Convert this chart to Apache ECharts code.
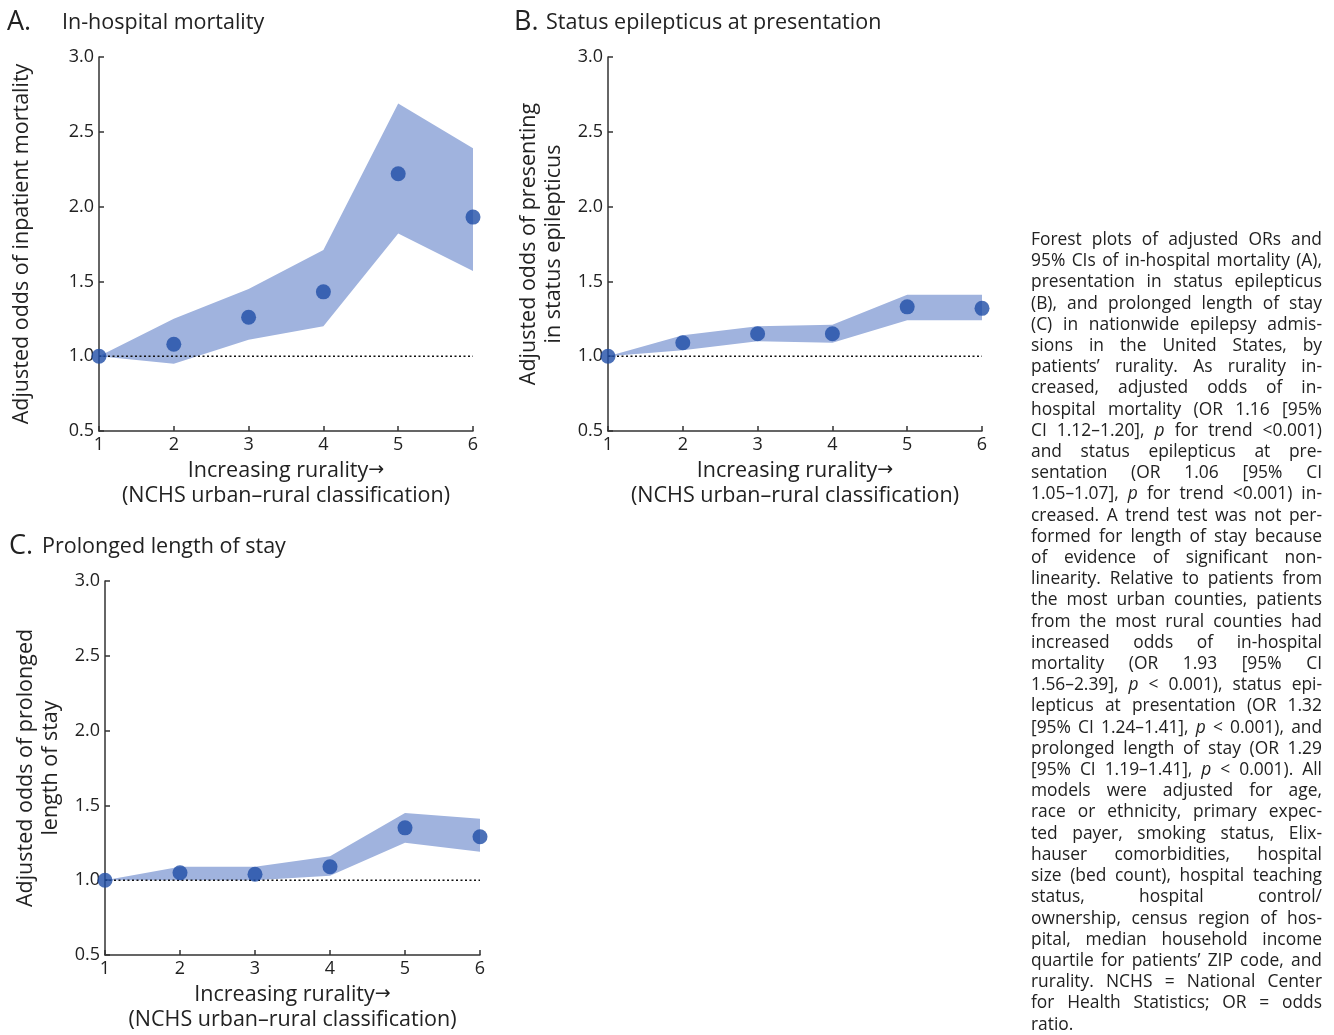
<!DOCTYPE html>
<html>
<head>
<meta charset="utf-8">
<script src="https://cdn.jsdelivr.net/npm/echarts@6/dist/echarts.min.js"></script>
<style>
  html, body { margin: 0; padding: 0; background: #fff; }
  #chart { position: absolute; left: 0; top: 0; width: 1334px; height: 1035px; }
  #caption {
    position: absolute; left: 1031px; top: 228px; width: 291px;
    font-family: "Open Sans", sans-serif; font-size: 17.4px; line-height: 21.2px; color: #222;
  }
  #caption .ln { white-space: nowrap; text-align: justify; text-align-last: justify; }
  #caption .ln.last { text-align-last: left; }
</style>
</head>
<body>
<div id="chart"></div>
<div id="caption"></div>
<script>
// ---- Data ----
const rurality = [1, 2, 3, 4, 5, 6];
const xTickLabels = ['1', '2', '3', '4', '5', '6'];
const yTickValues = [0.5, 1.0, 1.5, 2.0, 2.5, 3.0];

const mortalityOR = [1.00, 1.08, 1.26, 1.43, 2.22, 1.93];
const mortalityLo = [1.00, 0.95, 1.11, 1.20, 1.82, 1.57];
const mortalityHi = [1.00, 1.25, 1.45, 1.71, 2.69, 2.39];

const statusOR = [1.00, 1.09, 1.15, 1.15, 1.33, 1.32];
const statusLo = [1.00, 1.04, 1.10, 1.09, 1.24, 1.24];
const statusHi = [1.00, 1.14, 1.20, 1.21, 1.41, 1.41];

const losOR = [1.00, 1.05, 1.04, 1.09, 1.35, 1.29];
const losLo = [1.00, 1.00, 1.00, 1.03, 1.25, 1.19];
const losHi = [1.00, 1.09, 1.09, 1.16, 1.45, 1.41];

const referenceOR = 1.0;

const captionLines = [
  'Forest plots of adjusted ORs and',
  '95% CIs of in-hospital mortality (A),',
  'presentation in status epilepticus',
  '(B), and prolonged length of stay',
  '(C) in nationwide epilepsy admis-',
  'sions in the United States, by',
  'patients\u2019 rurality. As rurality in-',
  'creased, adjusted odds of in-',
  'hospital mortality (OR 1.16 [95%',
  'CI 1.12\u20131.20], <i>p</i> for trend &lt;0.001)',
  'and status epilepticus at pre-',
  'sentation (OR 1.06 [95% CI',
  '1.05\u20131.07], <i>p</i> for trend &lt;0.001) in-',
  'creased. A trend test was not per-',
  'formed for length of stay because',
  'of evidence of significant non-',
  'linearity. Relative to patients from',
  'the most urban counties, patients',
  'from the most rural counties had',
  'increased odds of in-hospital',
  'mortality (OR 1.93 [95% CI',
  '1.56\u20132.39], <i>p</i> &lt; 0.001), status epi-',
  'lepticus at presentation (OR 1.32',
  '[95% CI 1.24\u20131.41], <i>p</i> &lt; 0.001), and',
  'prolonged length of stay (OR 1.29',
  '[95% CI 1.19\u20131.41], <i>p</i> &lt; 0.001). All',
  'models were adjusted for age,',
  'race or ethnicity, primary expec-',
  'ted payer, smoking status, Elix-',
  'hauser comorbidities, hospital',
  'size (bed count), hospital teaching',
  'status, hospital control/',
  'ownership, census region of hos-',
  'pital, median household income',
  'quartile for patients\u2019 ZIP code, and',
  'rurality. NCHS = National Center',
  'for Health Statistics; OR = odds',
  'ratio.'
];

// ---- Caption ----
(function () {
  const cap = document.getElementById('caption');
  captionLines.forEach((t, i) => {
    const d = document.createElement('div');
    d.className = 'ln' + (i === captionLines.length - 1 ? ' last' : '');
    const s = document.createElement('span');
    s.innerHTML = t;
    d.appendChild(s);
    cap.appendChild(d);
    const w = s.getBoundingClientRect().width;
    const target = 291;
    if (w > target) {
      const n = s.textContent.length;
      d.style.letterSpacing = (-(w - target + 1) / n) + 'px';
    }
  });
})();

// ---- Chart ----
const FONT = '"Open Sans", sans-serif';
const TXT = '#222';
const PT = '#1f4da6';
const BAND = '#a0b3de';

const grids = [
  { left: 99, top: 57, width: 374, height: 374 },
  { left: 608, top: 57, width: 374, height: 374 },
  { left: 105, top: 581, width: 375, height: 374 }
];
const yNames = [
  'Adjusted odds of inpatient mortality',
  'Adjusted odds of presenting\nin status epilepticus',
  'Adjusted odds of prolonged\nlength of stay'
];
const yGaps = [65, 42, 42];
const panels = [
  { or: mortalityOR, lo: mortalityLo, hi: mortalityHi },
  { or: statusOR, lo: statusLo, hi: statusHi },
  { or: losOR, lo: losLo, hi: losHi }
];

const axisLine = { show: true, lineStyle: { color: '#333', width: 1.5 } };
const axisTick = { show: true, inside: true, length: 5, lineStyle: { color: '#333', width: 1.5 } };

const xAxes = grids.map((g, i) => ({
  type: 'value', gridIndex: i, min: 1, max: 6, interval: 1,
  axisLine, axisTick, splitLine: { show: false },
  axisLabel: { color: TXT, fontFamily: FONT, fontSize: 18, margin: 5,
    formatter: v => xTickLabels[rurality.indexOf(v)] },
  name: '{t|Increasing rurality}{a|\u2192}\n{t|(NCHS urban\u2013rural classification)}',
  nameLocation: 'middle', nameGap: 27,
  nameTextStyle: {
    color: TXT, fontFamily: FONT, fontSize: 21.5, lineHeight: 25,
    rich: {
      t: { color: TXT, fontFamily: FONT, fontSize: 21.5, lineHeight: 25 },
      a: { color: TXT, fontFamily: '"DejaVu Sans"', fontSize: 19, lineHeight: 25 }
    }
  }
}));
const yAxes = grids.map((g, i) => ({
  type: 'value', gridIndex: i, min: yTickValues[0], max: yTickValues[yTickValues.length - 1], interval: 0.5,
  axisLine, axisTick, splitLine: { show: false },
  axisLabel: { color: TXT, fontFamily: FONT, fontSize: 18, margin: 5, formatter: v => v.toFixed(1) },
  name: yNames[i], nameLocation: 'middle', nameGap: yGaps[i],
  nameTextStyle: { color: TXT, fontFamily: FONT, fontSize: 21.5, lineHeight: 25 }
}));

const series = [];
panels.forEach((p, i) => {
  series.push({
    type: 'custom', xAxisIndex: i, yAxisIndex: i, silent: true, z: 1,
    data: rurality.map((x, k) => [x, p.lo[k], p.hi[k]]),
    encode: { x: 0, y: [1, 2] },
    clip: false,
    renderItem: (params, api) => {
      if (params.dataIndex !== 0) return null;
      const pts = [];
      for (let k = 0; k < rurality.length; k++) pts.push(api.coord([rurality[k], p.hi[k]]));
      for (let k = rurality.length - 1; k >= 0; k--) pts.push(api.coord([rurality[k], p.lo[k]]));
      return { type: 'polygon', shape: { points: pts }, style: { fill: BAND } };
    }
  });
  series.push({
    type: 'line', xAxisIndex: i, yAxisIndex: i, silent: true, z: 2,
    data: [[rurality[0], referenceOR], [rurality[rurality.length - 1], referenceOR]],
    symbol: 'none', lineStyle: { color: '#111', width: 1.4, type: [2, 2.5] }
  });
  series.push({
    type: 'scatter', xAxisIndex: i, yAxisIndex: i, z: 3, clip: false,
    data: rurality.map((x, k) => [x, p.or[k]]),
    symbol: 'circle', symbolSize: 15, itemStyle: { color: PT }
  });
});

const chart = echarts.init(document.getElementById('chart'), null, { renderer: 'canvas' });
chart.setOption({
  animation: false,
  backgroundColor: '#fff',
  grid: grids.map(g => Object.assign({ containLabel: false }, g)),
  xAxis: xAxes,
  yAxis: yAxes,
  series,
  graphic: [
    { type: 'text', x: 7, y: 22, style: { text: 'A.', font: '27px ' + FONT, fill: TXT, verticalAlign: 'middle' } },
    { type: 'text', x: 62, y: 23, style: { text: 'In-hospital mortality', font: '21.5px ' + FONT, fill: TXT, verticalAlign: 'middle' } },
    { type: 'text', x: 514, y: 22, style: { text: 'B.', font: '27px ' + FONT, fill: TXT, verticalAlign: 'middle' } },
    { type: 'text', x: 546, y: 23, style: { text: 'Status epilepticus at presentation', font: '21.5px ' + FONT, fill: TXT, verticalAlign: 'middle' } },
    { type: 'text', x: 9, y: 546, style: { text: 'C.', font: '27px ' + FONT, fill: TXT, verticalAlign: 'middle' } },
    { type: 'text', x: 42, y: 547, style: { text: 'Prolonged length of stay', font: '21.5px ' + FONT, fill: TXT, verticalAlign: 'middle' } }
  ]
});
</script>
</body>
</html>
